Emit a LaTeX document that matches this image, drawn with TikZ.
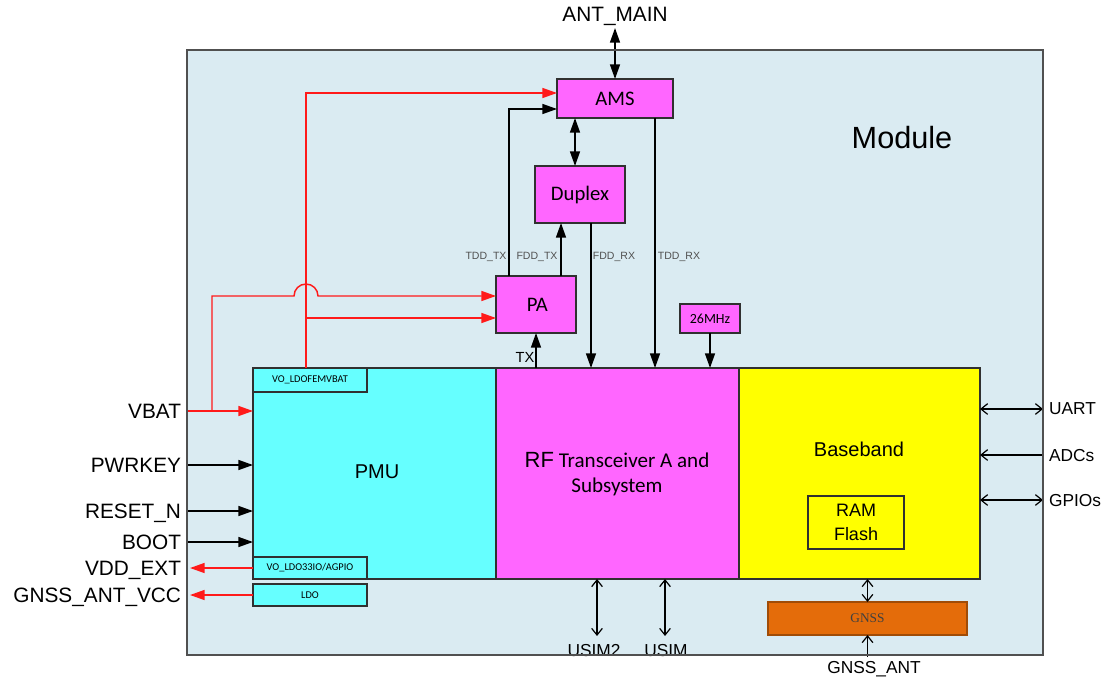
\documentclass[tikz,border=0pt]{standalone}
\usepackage{fontspec}
\setmainfont{Liberation Sans}
\newfontfamily\calf{Carlito}
\newfontfamily\tnrf{Liberation Serif}
\usetikzlibrary{arrows.meta,fit}
\definecolor{modbg}{HTML}{DAEBF2}
\definecolor{modline}{HTML}{505050}
\definecolor{boxline}{HTML}{303030}
\definecolor{mag}{HTML}{FF66FF}
\definecolor{cya}{HTML}{66FFFF}
\definecolor{yel}{HTML}{FFFF00}
\definecolor{ora}{HTML}{E46C0A}
\definecolor{lblc}{HTML}{505050}
\definecolor{redc}{HTML}{FF1A1A}
\tikzset{
  every node/.style={inner sep=0pt, outer sep=0pt},
  blk/.style={draw=boxline, line width=1.2pt, inner sep=0pt, outer sep=0pt},
  fbig/.style={font=\fontsize{15.6}{18}\selectfont},
  fmid/.style={font=\fontsize{13}{15}\selectfont},
  fbox/.style={font=\calf\fontsize{15.5}{18}\selectfont},
  fsig/.style={font=\fontsize{7.9}{9}\selectfont, text=lblc},
  fvo/.style={font=\calf\fontsize{7.8}{9}\selectfont},
  tri/.style={line width=1.1pt, -{Triangle[length=11pt,width=7.5pt]}},
  dtri/.style={line width=1.1pt, {Triangle[length=11pt,width=7.5pt]}-{Triangle[length=11pt,width=7.5pt]}},
  barb/.style={line width=0.9pt, -{Straight Barb[length=5pt,width=8pt]}},
  dbarb/.style={line width=0.9pt, {Straight Barb[length=5pt,width=8pt]}-{Straight Barb[length=5pt,width=8pt]}},
  redl/.style={draw=redc, line width=1.1pt},
  redtri/.style={redl, -{Triangle[length=11pt,width=7.5pt]}},
}
\begin{document}
\begin{tikzpicture}[x=0.75pt,y=-0.75pt]
\useasboundingbox (0,0) rectangle (1109,681);
% module
\node[fill=modbg, fit={(187,50)(1043,655)}] (module) {};
\node[font=\fontsize{23}{26}\selectfont, anchor=base] (modtitle) at (902,149) {Module};

% blocks
\node[blk, fill=mag, fit={(557,79)(673,118)}] (ams) {};
\node[fbox] (amst) at (ams.center) {AMS};
\node[blk, fill=mag, fit={(535,166)(625,223)}] (duplex) {};
\node[fbox] (duplext) at (duplex.center) {Duplex};
\node[blk, fill=mag, fit={(496,276)(576,333)}] (pa) {};
\node[fbox] (pat) at ([xshift=1pt]pa.center) {PA};
\node[blk, fill=mag, fit={(680,304)(740,333)}] (osc) {};
\node[font=\calf\fontsize{10.5}{12}\selectfont] (osct) at (osc.center) {26MHz};
\node[blk, fill=cya, fit={(253,368)(496,579)}] (pmu) {};
\node[font=\fontsize{15}{18}\selectfont] (pmut) at (377,472) {PMU};
\node[blk, fill=mag, fit={(496,368)(739,579)}] (rf) {};
\node[align=center, font=\calf\fontsize{15.8}{18.75}\selectfont] (rft) at (617,474) {{\fontsize{16.5}{18.75}\rmfamily RF} Transceiver A and\\Subsystem};
\node[blk, fill=yel, fit={(739,368)(980,579)}] (bb) {};
\node[font=\fontsize{15}{18}\selectfont] (bbtext) at (859,449) {Baseband};
\node[draw=boxline, line width=1pt, fill=yel, fit={(808,496)(904,549)}] (ram) {};
\node[align=center, font=\fontsize{13.5}{18}\selectfont] (ramt) at (ram.center) {RAM\\Flash};
\node[blk, fill=cya, fit={(253,368)(367,392)}] (vofem) {};
\node[fvo] (vofemt) at (vofem.center) {VO\_LDOFEMVBAT};
\node[blk, fill=cya, fit={(253,557)(367,579)}] (voldo) {};
\node[fvo] (voldot) at (voldo.center) {VO\_LDO33IO/AGPIO};
\node[blk, fill=cya, fit={(253,584)(367,606)}] (ldo) {};
\node[fvo] (ldot) at (ldo.center) {LDO};
\node[draw=ora!70!black, line width=0.8pt, fill=ora, fit={(768,602)(967,635)}] (gnss) {};
\node[font=\tnrf\fontsize{10}{12}\selectfont, text=black!75] (gnsst) at (gnss.center) {GNSS};

% labels outside
\node[fbig, anchor=base] (antmain) at (615,22) {ANT\_MAIN};
\node[fbig, anchor=base east] (vbat) at (181,418.4) {VBAT};
\node[fbig, anchor=base east] (pwrkey) at (181,472.4) {PWRKEY};
\node[fbig, anchor=base east] (resetn) at (181,518.4) {RESET\_N};
\node[fbig, anchor=base east] (boot) at (181,549.4) {BOOT};
\node[fbig, anchor=base east] (vddext) at (181,575.4) {VDD\_EXT};
\node[fbig, anchor=base east] (gnssvcc) at (181,602.4) {GNSS\_ANT\_VCC};
\node[fmid, anchor=base west] (uart) at (1049,414.2) {UART};
\node[fmid, anchor=base west] (adcs) at (1049,461.2) {ADCs};
\node[fmid, anchor=base west] (gpios) at (1049,506.2) {GPIOs};
\node[fmid, anchor=base] (usim2) at (594,656) {USIM2};
\node[fmid, anchor=base] (usim) at (666,656) {USIM};
\node[fmid, anchor=base] (gnssant) at (874,673) {GNSS\_ANT};

% signal labels
\node[fsig, anchor=base] (ltddtx) at (486,259.8) {TDD\_TX};
\node[fsig, anchor=base] (lfddtx) at (537,259.8) {FDD\_TX};
\node[fsig, anchor=base] (lfddrx) at (614,259.8) {FDD\_RX};
\node[fsig, anchor=base] (ltddrx) at (679,259.8) {TDD\_RX};
\node[font=\fontsize{11}{13}\selectfont, anchor=base] (ltx) at (525,362.5) {TX};

% helper coordinates
\coordinate (xamsd) at (575,0);
\coordinate (xtddtx) at (509,0);
\coordinate (ytddtx) at (0,109);
\coordinate (xfddtx) at (561,0);
\coordinate (xfddrx) at (591,0);
\coordinate (xtddrx) at (655,0);
\coordinate (xr1) at (212,0);
\coordinate (xr2) at (306,0);
\coordinate (yams) at (0,93);
\coordinate (ypa1) at (0,296);
\coordinate (ypa2) at (0,318);
\coordinate (hopL) at (294,296);
\coordinate (yvbat) at (0,411);
\coordinate (ypwr) at (0,465);
\coordinate (yrst) at (0,511);
\coordinate (yboot) at (0,542);
\coordinate (yuart) at (0,409);
\coordinate (yadc) at (0,455);
\coordinate (ygpio) at (0,500);
\coordinate (xusim2) at (597,0);
\coordinate (xusim) at (665,0);
\coordinate (yusim) at (0,636);
\coordinate (yant) at (0,28);
\coordinate (ygant) at (0,657);

% black connectors
\draw[dtri] (ams.north |- yant) -- (ams.north);
\draw[dtri] (xamsd |- ams.south) -- (xamsd |- duplex.north);
\draw[tri] (xtddtx |- pa.north) -- (xtddtx |- ytddtx) -- (ams.west |- ytddtx);
\draw[tri] (xfddtx |- pa.north) -- (xfddtx |- duplex.south);
\draw[tri] (xfddrx |- duplex.south) -- (xfddrx |- rf.north);
\draw[tri] (xtddrx |- ams.south) -- (xtddrx |- rf.north);
\draw[tri] (osc.south) -- (osc.south |- rf.north);
\draw[tri] (rf.north -| pa.south) -- (pa.south);
\draw[tri] (module.west |- ypwr) -- (pmu.west |- ypwr);
\draw[tri] (module.west |- yrst) -- (pmu.west |- yrst);
\draw[tri] (module.west |- yboot) -- (pmu.west |- yboot);

% red connectors
\draw[redtri] (module.west |- yvbat) -- (pmu.west |- yvbat);
\draw[redtri] (xr1 |- yvbat) -- (xr1 |- ypa1) -- (hopL) arc[start angle=180, end angle=0, radius=9pt] -- (pa.west |- ypa1);
\draw[redtri] (xr2 |- vofem.north) -- (xr2 |- yams) -- (ams.west |- yams);
\draw[redtri] (xr2 |- ypa2) -- (pa.west |- ypa2);
\draw[redtri] (voldo.west) -- ([xshift=2.25pt]module.west |- voldo.west);
\draw[redtri] (ldo.west) -- ([xshift=2.25pt]module.west |- ldo.west);

% thin barbed connectors
\draw[dbarb] (bb.east |- yuart) -- (module.east |- yuart);
\draw[barb] (module.east |- yadc) -- (bb.east |- yadc);
\draw[dbarb] (bb.east |- ygpio) -- (module.east |- ygpio);
\draw[dbarb] (xusim2 |- rf.south) -- (xusim2 |- yusim);
\draw[dbarb] (xusim |- rf.south) -- (xusim |- yusim);
\draw[dbarb] (bb.south -| gnss.north) -- (gnss.north);
\draw[barb] (gnss.south |- ygant) -- (gnss.south);

% module border on top
\draw[draw=modline, line width=1.5pt] (module.north west) rectangle (module.south east);
\end{tikzpicture}
\end{document}
